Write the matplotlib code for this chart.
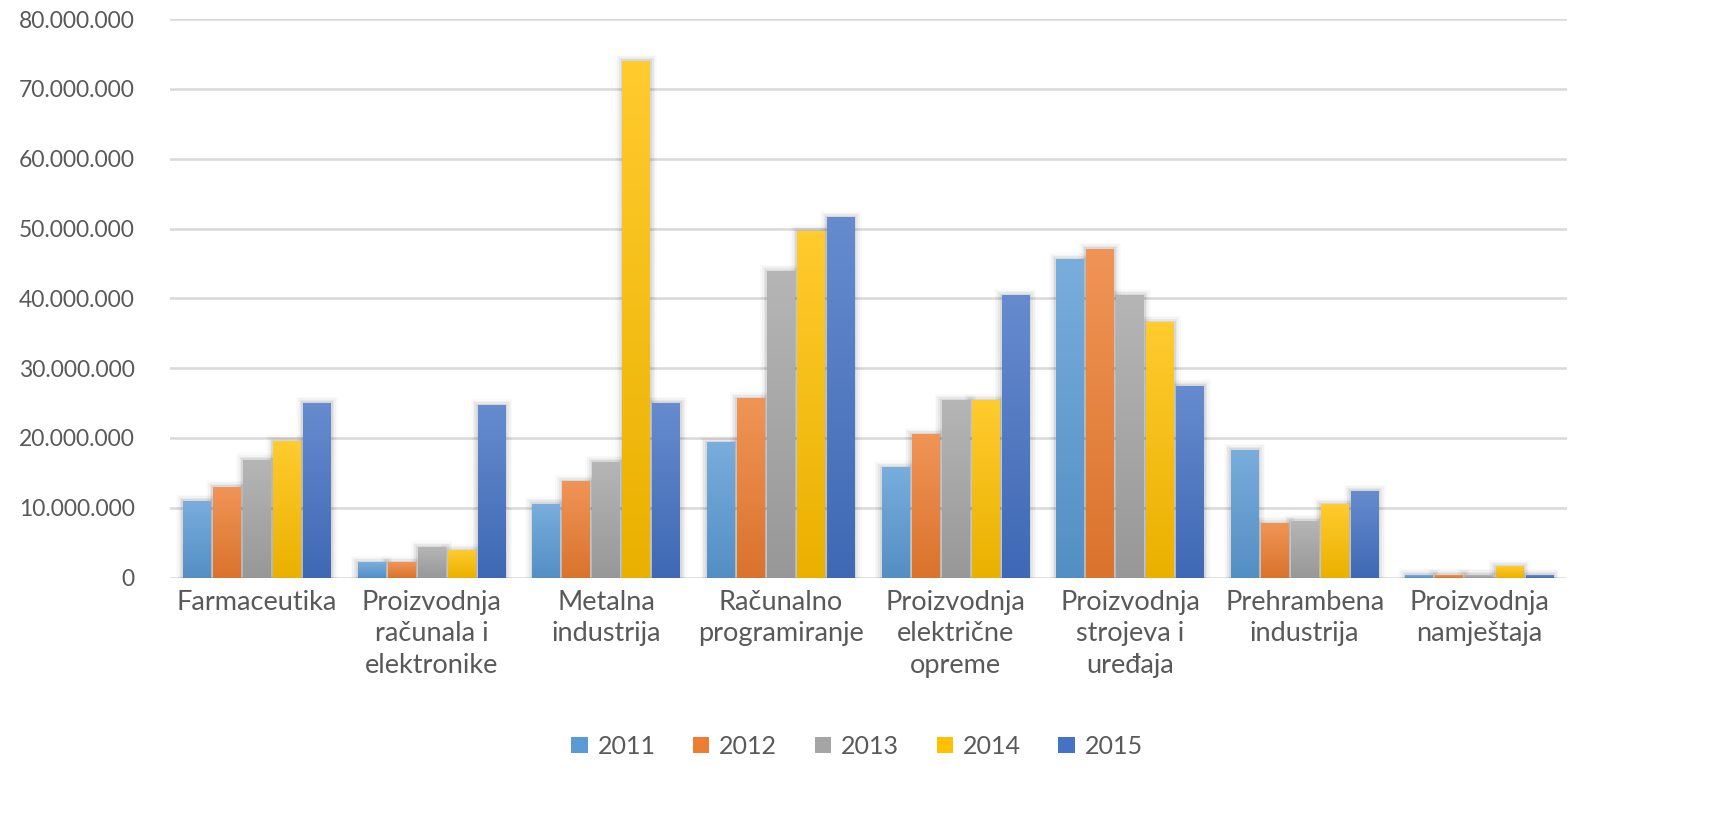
import matplotlib
matplotlib.use('Agg')
from matplotlib import pyplot as plt
from matplotlib.patches import Patch
import matplotlib.colors as mcolors
import numpy as np

plt.rcParams['font.family'] = ['Lato', 'DejaVu Sans']

# Data
categories = ["Farmaceutika", "Proizvodnja\nračunala i\nelektronike", "Metalna\nindustrija",
              "Računalno\nprogramiranje", "Proizvodnja\nelektrične\nopreme",
              "Proizvodnja\nstrojeva i\nuređaja", "Prehrambena\nindustrija", "Proizvodnja\nnamještaja"]
years = ["2011", "2012", "2013", "2014", "2015"]
v2011 = [11.0e6, 2.15e6, 10.6e6, 19.4e6, 15.8e6, 45.6e6, 18.3e6, 0.4e6]
v2012 = [13.0e6, 2.15e6, 13.8e6, 25.7e6, 20.5e6, 47.1e6, 7.8e6, 0.4e6]
v2013 = [16.9e6, 4.3e6, 16.6e6, 43.9e6, 25.4e6, 40.4e6, 8.1e6, 0.4e6]
v2014 = [19.5e6, 3.9e6, 74.0e6, 49.6e6, 25.4e6, 36.6e6, 10.5e6, 1.6e6]
v2015 = [25.0e6, 24.7e6, 25.0e6, 51.6e6, 40.4e6, 27.5e6, 12.4e6, 0.4e6]
series = [v2011, v2012, v2013, v2014, v2015]
colors = ["#5B9BD5", "#ED7D31", "#A5A5A5", "#FFC000", "#4472C4"]
yticks = np.arange(0, 80_000_001, 10_000_000)


def shade(c, f):
    r = np.array(mcolors.to_rgb(c))
    if f > 0:
        return r + (1 - r) * f
    return r * (1 + f)


fig = plt.figure(figsize=(17.14, 8.31), dpi=100)
ax = fig.add_axes([0.099, 0.305, 0.815, 0.672])

n = len(categories)
x = np.arange(n)
bw = 0.172
for i, (vals, col) in enumerate(zip(series, colors)):
    xs = x - 2 * bw + i * bw
    for xi, v in zip(xs, vals):
        left = xi - bw * 0.46
        right = xi + bw * 0.46
        # soft shadow
        for k, a in enumerate([0.06, 0.045, 0.03, 0.02]):
            d = 0.01 * (k + 1)
            ax.fill_between([left - d, right + d], 0, v + 220000 * (k + 1),
                            color='black', alpha=a, lw=0, zorder=2)
        # vertical gradient fill
        grad = np.linspace(0, 1, 64).reshape(-1, 1)
        top = shade(col, 0.18)
        bot = shade(col, -0.08)
        img = top[None, None, :] * (1 - grad[..., None]) + bot[None, None, :] * grad[..., None]
        ax.imshow(img, extent=[left, right, 0, v], origin='upper', aspect='auto',
                  interpolation='bilinear', zorder=3)

ax.set_xlim(-0.5, n - 0.5)
ax.set_ylim(0, 80_000_000)
ax.set_yticks(yticks)
ax.set_yticklabels([f"{int(t):,}".replace(",", ".") for t in yticks])
ax.set_xticks(x)
ax.set_xticklabels(categories, linespacing=1.32)
ax.tick_params(axis='both', length=0, colors='#595959')
ax.tick_params(axis='y', labelsize=16.5, pad=25)
ax.tick_params(axis='x', labelsize=19.5, pad=9)
ax.grid(axis='y', color='#D9D9D9', linewidth=1.8, zorder=0)
ax.set_axisbelow(True)
for s in ax.spines.values():
    s.set_visible(False)

handles = [Patch(facecolor=c, label=y) for c, y in zip(colors, years)]
fig.legend(handles=handles, loc='center', bbox_to_anchor=(0.5, 0.102), ncol=5,
           frameon=False, fontsize=18, handlelength=0.65, handleheight=0.65,
           handletextpad=0.4, columnspacing=1.5, labelcolor='#595959')

plt.savefig("out.png", dpi=100)
